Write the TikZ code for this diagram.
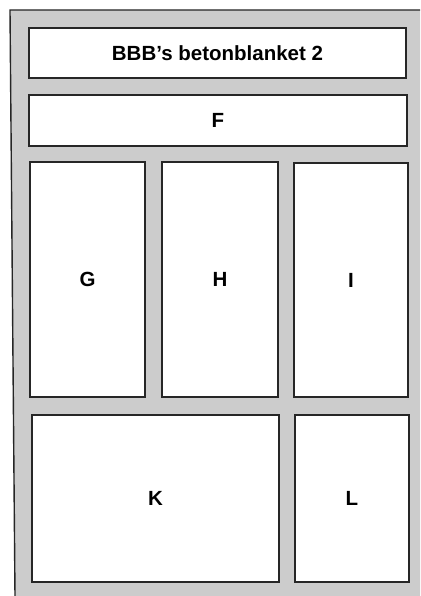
\documentclass[tikz,border=0pt]{standalone}
\usepackage{fontspec}
\setmainfont{Liberation Sans}
\begin{document}
\begin{tikzpicture}[x=1pt,y=-1pt,
  panel/.style={draw=black!85,line width=1.3pt,fill=white,font=\bfseries\fontsize{20.5}{24}\selectfont},
  frameline/.style={draw=black!85,line width=1.4pt}]
\useasboundingbox (0,0) rectangle (420,596);
\fill[black!20] (10,10) -- (420,10) -- (420,596) -- (15,596) -- cycle;
\draw[frameline] (15,596) -- (10,10) -- (420,10);
\draw[panel] (29,28) rectangle (406,78) node[midway] (title) {BBB’s betonblanket 2};
\draw[panel] (29,95) rectangle (407,146) node[midway] (F) {F};
\draw[panel] (30,162) rectangle (145,397) node[midway] (G) {G};
\draw[panel] (162,162) rectangle (278,397) node[midway] (H) {H};
\draw[panel] (294,163) rectangle (408,397) node[midway] (I) {I};
\draw[panel] (32,415) rectangle (279,582) node[midway] (K) {K};
\draw[panel] (295,415) rectangle (409,582) node[midway] (L) {L};
\end{tikzpicture}
\end{document}
